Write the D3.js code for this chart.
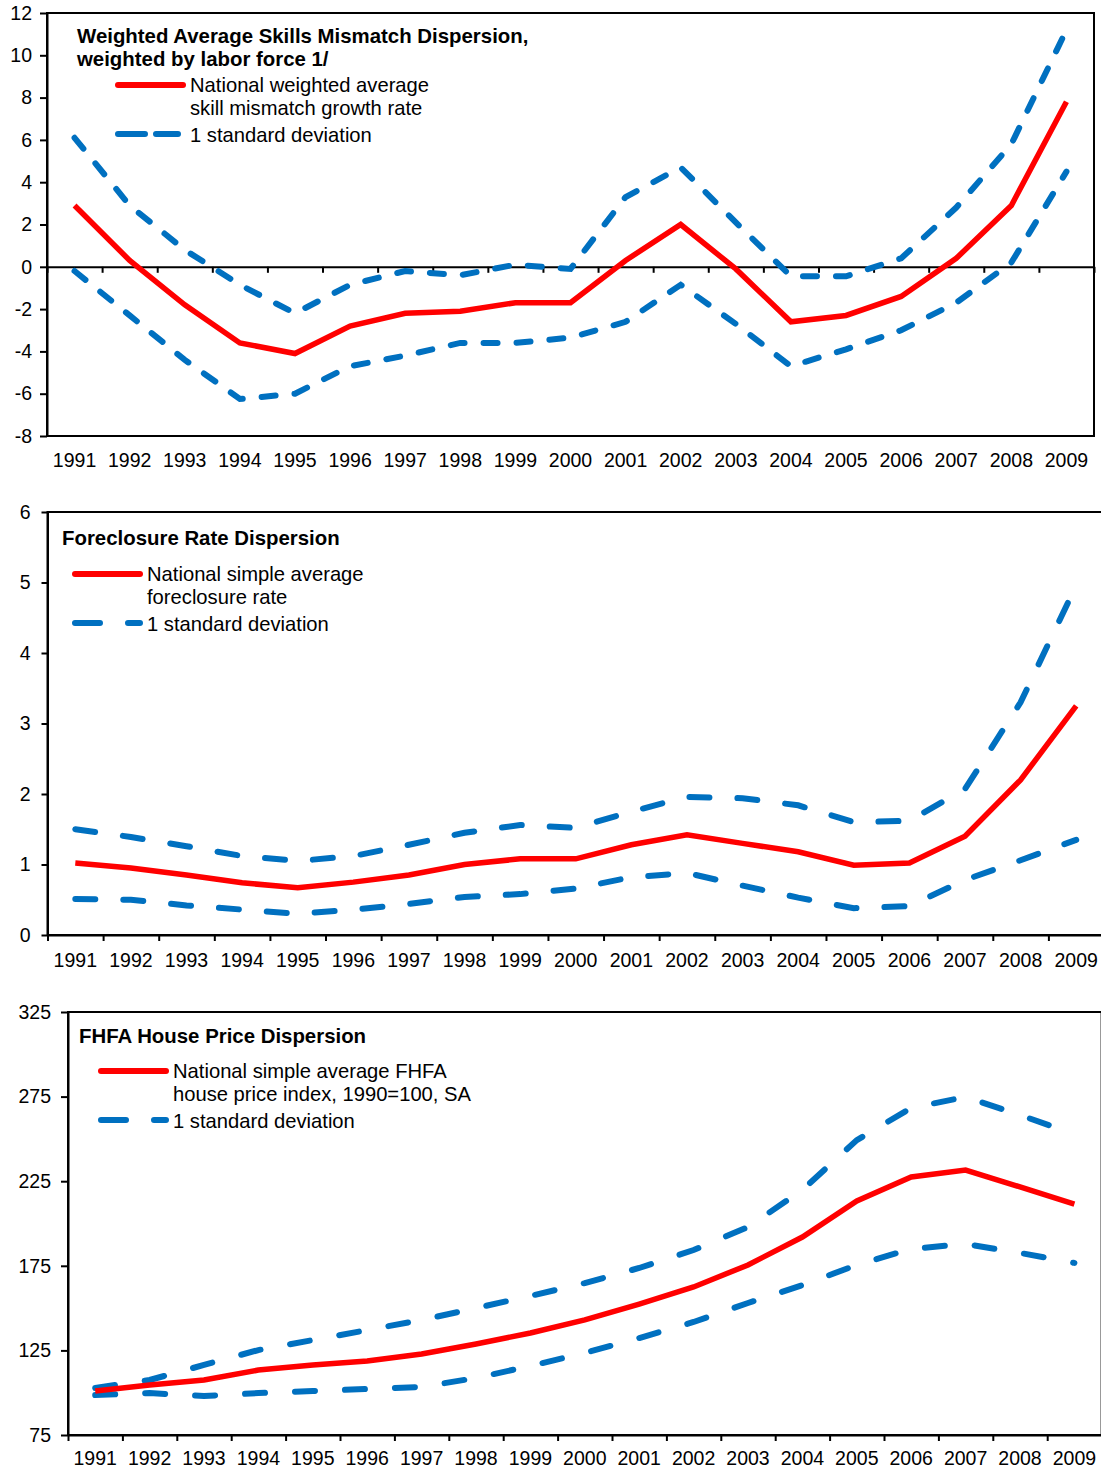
<!DOCTYPE html>
<html lang="en">
  <head>
    <meta charset="utf-8">
    <title>Dispersion charts</title>
    <script src="https://cdn.jsdelivr.net/npm/d3@7"></script>
    <style>
      body { margin: 0; background: #fff; }
      svg { display: block; font-family: "Liberation Sans", Arial, sans-serif; }
    </style>
  </head>

  <body>
    <div id='main'></div>

    <script type='text/javascript'>
      let years = ['1991','1992','1993','1994','1995','1996','1997','1998','1999','2000',
                   '2001','2002','2003','2004','2005','2006','2007','2008','2009'];

      // skills mismatch
      let skillAvg   = [2.9, 0.3, -1.8, -3.6, -4.1, -2.8, -2.2, -2.1, -1.7, -1.7,
                        0.3, 2.0, -0.1, -2.6, -2.3, -1.4, 0.4, 2.9, 7.8];
      let skillUpper = [6.1, 2.9, 0.8, -0.85, -2.2, -0.85, -0.2, -0.4, 0.1, -0.1,
                        3.3, 4.7, 2.1, -0.45, -0.45, 0.4, 2.8, 5.8, 11.2];
      let skillLower = [-0.2, -2.3, -4.4, -6.25, -6.0, -4.7, -4.2, -3.6, -3.6, -3.35,
                        -2.6, -0.85, -2.7, -4.7, -3.9, -3.0, -1.7, 0.2, 4.5];

      // foreclosure rate
      let foreAvg   = [1.02, 0.95, 0.85, 0.74, 0.67, 0.75, 0.85, 1.0, 1.08, 1.08,
                       1.28, 1.42, 1.3, 1.18, 0.99, 1.02, 1.4, 2.2, 3.25];
      let foreUpper = [1.5, 1.39, 1.26, 1.12, 1.05, 1.12, 1.28, 1.45, 1.56, 1.52,
                       1.75, 1.96, 1.94, 1.84, 1.6, 1.62, 2.07, 3.3, 4.96];
      let foreLower = [0.51, 0.5, 0.42, 0.36, 0.3, 0.36, 0.44, 0.54, 0.58, 0.66,
                       0.82, 0.88, 0.7, 0.53, 0.38, 0.41, 0.78, 1.06, 1.35];

      // FHFA house prices
      let hpAvg   = [101, 104.5, 107.5, 113.4, 116.4, 118.7, 122.9, 128.8, 135.3, 143,
                     152.4, 162.5, 175.5, 192, 213.3, 227.5, 231.6, 221.6, 211.5];
      let hpUpper = [102.8, 107.5, 116.4, 125.2, 131.1, 137, 143, 150, 157.2, 164.8,
                     173.7, 184.3, 197.9, 219.8, 249.3, 268.3, 274.8, 264.1, 252.9];
      let hpLower = [98.6, 99.8, 98, 99.8, 101, 102.2, 103.4, 108.7, 115.8, 123.5,
                     132.3, 141.8, 153, 163.6, 175.5, 185, 187.9, 182.6, 176.7];

      let panels = [
        { left: 47, right: 1094, top: 13, bottom: 436, domain: [-8, 12], step: 2,
          zeroAxis: true, ytick: 7, ypad: 8, xpad: 17, dash: '14,19',
          title: ['Weighted Average Skills Mismatch Dispersion,', 'weighted by labor force 1/'],
          titleX: 77, titleY: 43,
          legend: ['National weighted average', 'skill mismatch growth rate'],
          legX: 118, legY: 85, legDash: '27,11,22,8,1,30',
          avg: skillAvg, upper: skillUpper, lower: skillLower },
        { left: 47.5, right: 1104, top: 512, bottom: 935, domain: [0, 6], step: 1,
          zeroAxis: false, ytick: 6, ypad: 11, xpad: 18, dash: '20,28',
          title: ['Foreclosure Rate Dispersion'], titleX: 62, titleY: 545,
          legend: ['National simple average', 'foreclosure rate'],
          legX: 75, legY: 574, legDash: '25,28,40',
          avg: foreAvg, upper: foreUpper, lower: foreLower },
        { left: 68, right: 1101.6, top: 1012, bottom: 1435, domain: [75, 325], step: 50,
          zeroAxis: false, ytick: 7, ypad: 10, xpad: 16, dash: '20,30',
          title: ['FHFA House Price Dispersion'], titleX: 79, titleY: 1043,
          legend: ['National simple average FHFA', 'house price index, 1990=100, SA'],
          legX: 101, legY: 1071, legDash: '25,28,40',
          avg: hpAvg, upper: hpUpper, lower: hpLower }
      ];

      let width = 1101;
      let height = 1473;
      let svg = d3.select('#main').append('svg')
        .attr('width', width)
        .attr('height', height);

      panels.forEach((p) => {
        let g = svg.append('g');

        let x = d3.scaleBand()
          .domain(years)
          .range([p.left, p.right]);
        let xEdge = d3.scaleLinear()
          .domain([0, years.length])
          .range([p.left, p.right]);
        let y = d3.scaleLinear()
          .domain(p.domain)
          .range([p.bottom, p.top]);

        let cx = (i) => x(years[i]) + x.bandwidth() / 2;

        // frame
        g.append('rect')
          .attr('x', p.left)
          .attr('y', p.top)
          .attr('width', p.right - p.left)
          .attr('height', p.bottom - p.top)
          .attr('fill', 'none')
          .attr('stroke', '#000')
          .attr('stroke-width', 2);

        // y axis
        let yAxis = g.append('g')
          .attr('transform', `translate(${p.left},0)`)
          .call(d3.axisLeft(y)
            .tickValues(d3.range(p.domain[0], p.domain[1] + p.step / 2, p.step))
            .tickFormat((d) => String(d))
            .tickSize(p.ytick)
            .tickSizeOuter(0)
            .tickPadding(p.ypad));
        yAxis.select('.domain').attr('stroke-width', 2);
        yAxis.selectAll('.tick line').attr('stroke-width', 2);
        yAxis.selectAll('text')
          .attr('font-size', '19.5px')
          .attr('font-family', '"Liberation Sans", Arial, sans-serif')
          .attr('fill', '#000');

        // category boundary ticks
        let axisY = p.zeroAxis ? y(0) : p.bottom;
        let edge = g.append('g')
          .attr('transform', `translate(0,${axisY})`)
          .call(d3.axisBottom(xEdge)
            .tickValues(d3.range(0, years.length + 1))
            .tickFormat('')
            .tickSize(6)
            .tickSizeOuter(0));
        edge.select('.domain').attr('stroke-width', 2);
        edge.selectAll('.tick line').attr('stroke-width', 2);

        // year labels
        let xl = g.append('g')
          .attr('transform', `translate(0,${p.bottom})`)
          .call(d3.axisBottom(x).tickSize(0).tickPadding(p.xpad));
        xl.select('.domain').remove();
        xl.selectAll('text')
          .attr('font-size', '19.5px')
          .attr('font-family', '"Liberation Sans", Arial, sans-serif')
          .attr('fill', '#000');

        let line = (vals) => d3.line()
          .x((d, i) => cx(i))
          .y((d) => y(d))(vals);

        [p.upper, p.lower].forEach((vals) => {
          g.append('path')
            .attr('d', line(vals))
            .attr('fill', 'none')
            .attr('stroke', '#0070c0')
            .attr('stroke-width', 6)
            .attr('stroke-linecap', 'round')
            .attr('stroke-dasharray', p.dash);
        });

        g.append('path')
          .attr('d', line(p.avg))
          .attr('fill', 'none')
          .attr('stroke', '#ff0000')
          .attr('stroke-width', 5.5)
          .attr('stroke-linejoin', 'miter');

        // title
        g.selectAll('.title')
          .data(p.title)
          .enter()
          .append('text')
          .attr('x', p.titleX)
          .attr('y', (d, i) => p.titleY + i * 23)
          .text((d) => d)
          .attr('font-size', '20.4px')
          .attr('font-weight', 'bold')
          .attr('fill', '#000');

        // legend
        g.append('line')
          .attr('x1', p.legX).attr('x2', p.legX + 65)
          .attr('y1', p.legY).attr('y2', p.legY)
          .attr('stroke', '#ff0000')
          .attr('stroke-width', 6)
          .attr('stroke-linecap', 'round');
        g.selectAll('.leg')
          .data(p.legend)
          .enter()
          .append('text')
          .attr('x', p.legX + 72)
          .attr('y', (d, i) => p.legY + 7 + i * 23)
          .text((d) => d)
          .attr('font-size', '20.2px')
          .attr('fill', '#000');

        let sdY = p.legY + 49;
        g.append('line')
          .attr('x1', p.legX).attr('x2', p.legX + 65)
          .attr('y1', sdY).attr('y2', sdY)
          .attr('stroke', '#0070c0')
          .attr('stroke-width', 6)
          .attr('stroke-linecap', 'round')
          .attr('stroke-dasharray', p.legDash);
        g.append('text')
          .attr('x', p.legX + 72)
          .attr('y', sdY + 8)
          .text('1 standard deviation')
          .attr('font-size', '20.2px')
          .attr('fill', '#000');
      });
    </script>
  </body>
</html>
